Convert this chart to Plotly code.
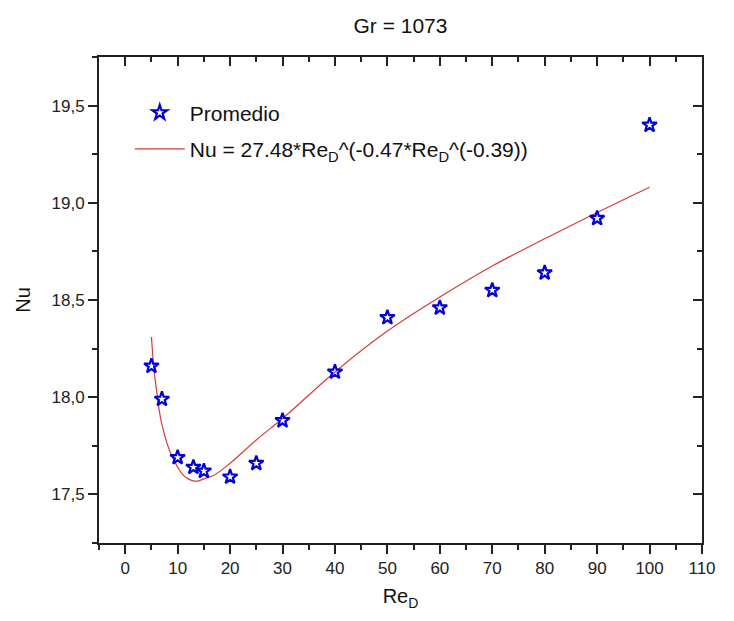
import plotly.graph_objects as go

# Measured points (Promedio)
re_pts = [5, 7, 10, 13, 15, 20, 25, 30, 40, 50, 60, 70, 80, 90, 100]
nu_pts = [18.16, 17.99, 17.69, 17.64, 17.62, 17.59, 17.66, 17.88, 18.13, 18.41, 18.46, 18.55, 18.64, 18.92, 19.40]

# Fitted curve
re_fit = [5, 5.5, 6, 6.5, 7, 8, 9, 10, 11, 12, 13, 14, 15, 17, 20, 25, 30, 40, 50, 60, 70, 80, 90, 100]
nu_fit = [18.31, 18.14, 18.03, 17.93, 17.86, 17.76, 17.69, 17.64, 17.60, 17.58, 17.57, 17.57, 17.58,
          17.60, 17.66, 17.78, 17.89, 18.13, 18.34, 18.515, 18.675, 18.815, 18.95, 19.08]

title_text = "Gr = 1073"
x_title = "Re<sub>D</sub>"
y_title = "Nu"
fit_label = "Nu = 27.48*Re<sub>D</sub>^(-0.47*Re<sub>D</sub>^(-0.39))"
pts_label = "Promedio"

FONT = "Liberation Sans, Arial, sans-serif"
AX = "#222222"

fig = go.Figure()
fig.add_trace(go.Scatter(
    x=re_fit, y=nu_fit, mode="lines", name=fit_label,
    line=dict(color="rgb(214,60,60)", width=1.2, shape="spline"),
    legendgroup="b", legendrank=2,
))
fig.add_trace(go.Scatter(
    x=re_pts, y=nu_pts, mode="markers", name=pts_label,
    marker=dict(symbol="star-open", size=11, color="rgb(0,0,220)",
                line=dict(width=2.2, color="rgb(0,0,220)")),
    legendgroup="a", legendrank=1,
))
# dummy trace for the mirrored inside ticks (top / right)
fig.add_trace(go.Scatter(x=[], y=[], xaxis="x2", yaxis="y2", showlegend=False, hoverinfo="skip"))

xr = [-5, 110]
yr = [17.25, 19.75]

common_x = dict(range=xr, tick0=0, dtick=10, ticklen=9, tickwidth=2, tickcolor=AX,
                minor=dict(dtick=5, tick0=0, ticklen=5, tickwidth=2, tickcolor=AX),
                showgrid=False, zeroline=False)
common_y = dict(range=yr, tick0=17.5, dtick=0.5, ticklen=9, tickwidth=2, tickcolor=AX,
                minor=dict(dtick=0.25, tick0=17.25, ticklen=5, tickwidth=2, tickcolor=AX),
                showgrid=False, zeroline=False)

# page body has an 8px margin: compensate in size and margins
fig.update_layout(
    width=726, height=613,
    margin=dict(l=91, r=32, t=49, b=78),
    paper_bgcolor="white", plot_bgcolor="white",
    separators=",.",
    font=dict(family=FONT, color="#111111"),
    title=dict(text=title_text, x=0.5, xref="paper", xanchor="center",
               y=1 - 18 / 613, yref="container", yanchor="middle",
               font=dict(size=21, family=FONT, color="#111111")),
    xaxis=dict(**common_x, ticks="outside", minor_ticks="outside",
               showline=True, linewidth=2, linecolor=AX, mirror=True,
               tickfont=dict(size=17, family=FONT, color="#222222"),
               title=dict(text=x_title, font=dict(size=20, family=FONT), standoff=12)),
    yaxis=dict(**common_y, ticks="outside", minor_ticks="outside", tickformat=".1f",
               showline=True, linewidth=2, linecolor=AX, mirror=True,
               tickfont=dict(size=17, family=FONT, color="#222222"),
               title=dict(text=y_title, font=dict(size=20, family=FONT), standoff=16)),
    xaxis2=dict(**common_x, overlaying="x", side="top", anchor="y2", ticks="inside",
                minor_ticks="inside", showticklabels=False, showline=False),
    yaxis2=dict(**common_y, overlaying="y", side="right", anchor="x2", ticks="inside",
                minor_ticks="inside", showticklabels=False, showline=False),
    legend=dict(x=0.051, y=0.927, xanchor="left", yanchor="top",
                bgcolor="rgba(0,0,0,0)", borderwidth=0,
                font=dict(size=21, family=FONT, color="#111111"),
                traceorder="grouped", tracegroupgap=6, itemwidth=50),
    showlegend=True,
)

fig.write_html("out.html")
